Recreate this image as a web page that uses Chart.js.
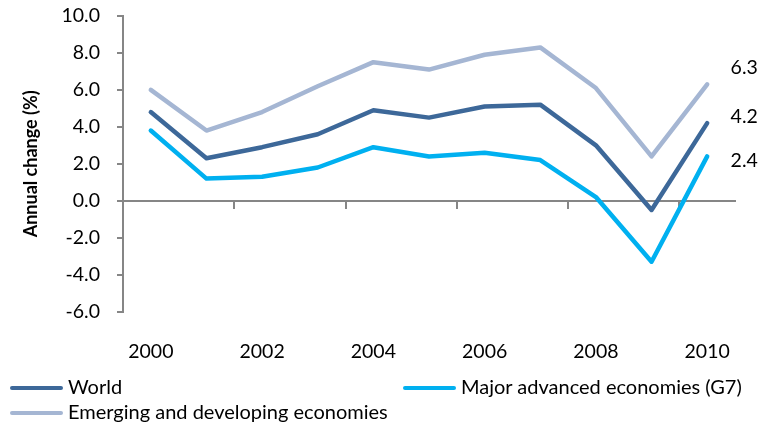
<!DOCTYPE html>
<html>
<head>
<meta charset="utf-8">
<script src="https://cdn.jsdelivr.net/npm/chart.js@4.4.1/dist/chart.umd.min.js"></script>
<style>
  html, body { margin: 0; padding: 0; background: #fff; }
  #wrap { position: relative; width: 760px; height: 423px; }
  #legend {
    position: absolute; left: 10px; top: 374px;
    display: grid; grid-template-columns: 393px auto;
    font: 20px Lato, sans-serif; color: #000; line-height: 25px;
  }
  #legend .item { white-space: nowrap; }
  #legend .swatch {
    display: inline-block; width: 53px; height: 4px; border-radius: 2px;
    vertical-align: middle; margin-right: 5px; position: relative; top: -1px;
  }
</style>
</head>
<body>
<div id="wrap">
  <canvas id="chart" width="760" height="423"></canvas>
  <div id="legend"></div>
</div>
<script>
const years = ["2000", "2001", "2002", "2003", "2004", "2005", "2006", "2007", "2008", "2009", "2010"];
const world = [4.8, 2.3, 2.9, 3.6, 4.9, 4.5, 5.1, 5.2, 3.0, -0.5, 4.2];
const g7 = [3.8, 1.2, 1.3, 1.8, 2.9, 2.4, 2.6, 2.2, 0.2, -3.3, 2.4];
const emerging = [6.0, 3.8, 4.8, 6.2, 7.5, 7.1, 7.9, 8.3, 6.1, 2.4, 6.3];
const yTicks = [-6, -4, -2, 0, 2, 4, 6, 8, 10];
const yTitle = "Annual change (%)";

const axisGrey = "#868686";
const fontFamily = "Lato, sans-serif";
const tickSize = 19.5;

const series = [
  { label: "World", data: world, color: "#3d6899", labelDy: -6 },
  { label: "Major advanced economies (G7)", data: g7, color: "#00b0f0", labelDy: 4 },
  { label: "Emerging and developing economies", data: emerging, color: "#a5b6d3", labelDy: -17 },
];

// value printed just right of the last point of each line
const endLabels = {
  id: "endLabels",
  afterDatasetsDraw(chart) {
    const ctx = chart.ctx;
    ctx.save();
    ctx.font = tickSize + "px " + fontFamily;
    ctx.fillStyle = "#000";
    ctx.textAlign = "center";
    ctx.textBaseline = "middle";
    chart.data.datasets.forEach((ds, i) => {
      const pts = chart.getDatasetMeta(i).data;
      const last = pts[pts.length - 1];
      const value = ds.data[ds.data.length - 1];
      ctx.fillText(value.toFixed(1), last.x + 37, last.y + series[i].labelDy);
    });
    ctx.restore();
  },
};

// rotated y axis title, centred on the plot height
const yAxisTitle = {
  id: "yAxisTitle",
  afterDraw(chart) {
    const { ctx, chartArea } = chart;
    ctx.save();
    ctx.translate(31, (chartArea.top + chartArea.bottom) / 2);
    ctx.rotate(-Math.PI / 2);
    ctx.font = "bold 18px " + fontFamily;
    ctx.fillStyle = "#000";
    ctx.textAlign = "center";
    ctx.textBaseline = "middle";
    ctx.fillText(yTitle, 0, 0);
    ctx.restore();
  },
};

new Chart(document.getElementById("chart"), {
  type: "line",
  data: {
    labels: years,
    datasets: series.map((s) => ({
      label: s.label,
      data: s.data,
      borderColor: s.color,
      backgroundColor: s.color,
      borderWidth: 4.5,
      borderCapStyle: "round",
      borderJoinStyle: "round",
      pointRadius: 0,
      tension: 0,
      fill: false,
    })),
  },
  options: {
    responsive: false,
    animation: false,
    layout: { padding: { top: 16, right: 25, bottom: 32, left: 0 } },
    plugins: { legend: { display: false }, tooltip: { enabled: false } },
    scales: {
      // axis line through zero, tick marks every two years
      x: {
        type: "category",
        position: { y: 0 },
        offset: true,
        ticks: { display: false },
        border: { color: axisGrey, width: 2 },
        grid: {
          offset: true,
          drawOnChartArea: false,
          drawTicks: true,
          tickLength: 7,
          lineWidth: 2,
          color: (c) => (c.index > 0 && c.index % 2 === 0 && c.index < years.length ? axisGrey : "rgba(0,0,0,0)"),
        },
      },
      xb: {
        type: "category",
        position: "bottom",
        offset: true,
        border: { display: false },
        grid: { display: false, drawTicks: false },
        ticks: {
          autoSkip: false,
          maxRotation: 0,
          padding: 28,
          color: "#000",
          font: { family: fontFamily, size: tickSize },
          callback: (v, i) => (i % 2 === 0 ? years[i] : ""),
        },
      },
      y: {
        min: yTicks[0],
        max: yTicks[yTicks.length - 1],
        afterBuildTicks: (scale) => { scale.ticks = yTicks.map((v) => ({ value: v })); },
        afterFit: (scale) => {
          scale.width = 123;
          scale.paddingTop = 10;
          scale.paddingBottom = 10;
        },
        border: { color: axisGrey, width: 2 },
        grid: { drawOnChartArea: false, drawTicks: true, tickLength: 6, color: axisGrey, lineWidth: 2 },
        ticks: {
          padding: 17,
          color: "#000",
          font: { family: fontFamily, size: tickSize },
          callback: (v) => Number(v).toFixed(1),
        },
      },
    },
  },
  plugins: [endLabels, yAxisTitle],
});

// legend: two columns, row by row
const legend = document.getElementById("legend");
series.forEach((s) => {
  const item = document.createElement("div");
  item.className = "item";
  const sw = document.createElement("span");
  sw.className = "swatch";
  sw.style.background = s.color;
  item.appendChild(sw);
  item.appendChild(document.createTextNode(s.label));
  legend.appendChild(item);
});
</script>
</body>
</html>
